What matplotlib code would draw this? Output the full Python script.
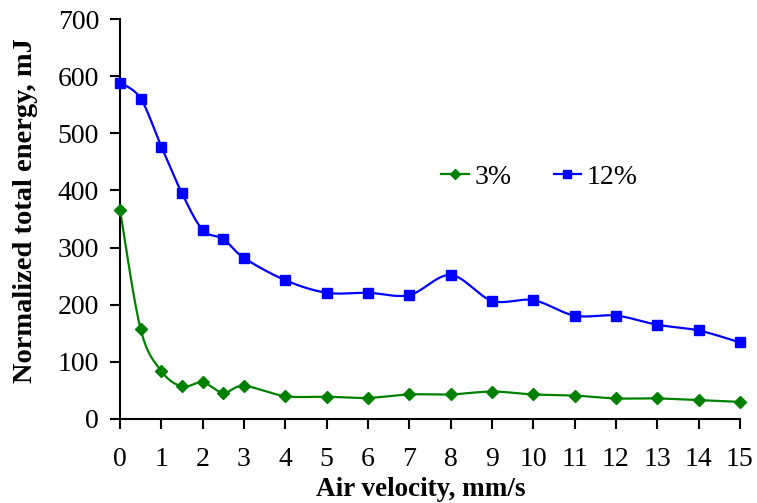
import numpy as np
import matplotlib
matplotlib.use("Agg")
import matplotlib.pyplot as plt
from matplotlib.lines import Line2D

velocity = [0, 0.5, 1, 1.5, 2, 2.5, 3, 4, 5, 6, 7, 8, 9, 10, 11, 12, 13, 14, 15]
energy_3 = [366, 157, 84, 57, 64, 46, 58, 40, 39, 37, 43, 43, 48, 43, 41, 36, 36, 33, 30]
energy_12 = [589, 561, 477, 395, 331, 315, 282, 243, 221, 221, 217, 252, 207, 208, 181, 181, 165, 155, 134]
labels = ["3%", "12%"]
x_ticks = list(range(0, 16))
y_ticks = list(range(0, 701, 100))

plt.rcParams["font.family"] = ["Liberation Serif", "DejaVu Serif"]


def smooth(x, y, n=30):
    """Cubic Bezier smoothing through every point (Catmull-Rom control points)."""
    x = np.asarray(x, float)
    y = np.asarray(y, float)
    p = np.column_stack([x, y])
    pts = []
    for i in range(len(p) - 1):
        p0 = p[i - 1] if i > 0 else p[i]
        p1, p2 = p[i], p[i + 1]
        p3 = p[i + 2] if i + 2 < len(p) else p[i + 1]
        c1 = p1 + (p2 - p0) / 6.0
        c2 = p2 - (p3 - p1) / 6.0
        t = np.linspace(0, 1, n, endpoint=(i == len(p) - 2))[:, None]
        seg = ((1 - t) ** 3) * p1 + 3 * ((1 - t) ** 2) * t * c1 + 3 * (1 - t) * t ** 2 * c2 + t ** 3 * p2
        pts.append(seg)
    pts = np.vstack(pts)
    return pts[:, 0], pts[:, 1]


fig = plt.figure(figsize=(7.57, 5.03), dpi=100)
ax = fig.add_axes([0.1585, 0.167, 0.819, 0.795])

green = "#008000"
blue = "#0000ff"

for data, color, marker, ms in [(energy_3, green, "D", 6.5), (energy_12, blue, "s", 7)]:
    sx, sy = smooth(velocity, data)
    ax.plot(sx, sy, color=color, lw=1.6, zorder=2)
    ax.plot(velocity, data, ls="none", marker=marker, ms=ms, color=color, zorder=3, clip_on=False)

ax.set_xlim(0, 15)
ax.set_ylim(0, 700)
ax.set_xticks(x_ticks)
ax.set_yticks(y_ticks)
ax.spines["top"].set_visible(False)
ax.spines["right"].set_visible(False)
ax.spines["left"].set_linewidth(1.5)
ax.spines["bottom"].set_linewidth(1.5)
ax.tick_params(axis="both", direction="out", length=7, width=1.5, labelsize=20, colors="black")
ax.tick_params(axis="x", pad=13)
ax.tick_params(axis="y", pad=8)

ax.set_xlabel("Air velocity, mm/s", fontsize=19.5, fontweight="bold", va="center", ha="center")
ax.set_ylabel("Normalized total energy, mJ", fontsize=20.5, fontweight="bold", va="center", ha="center")
ax.xaxis.set_label_coords(0.485, -0.176)
ax.yaxis.set_label_coords(-0.153, 0.52)

handles = [
    Line2D([], [], color=green, lw=1.6, marker="D", ms=5),
    Line2D([], [], color=blue, lw=1.6, marker="s", ms=6),
]
ax.legend(handles, labels, ncol=2, frameon=False, fontsize=20,
          loc="center", bbox_to_anchor=(0.677, 0.605), handlelength=1.0,
          handletextpad=0.2, columnspacing=1.5)

fig.savefig("out.png", dpi=100)
